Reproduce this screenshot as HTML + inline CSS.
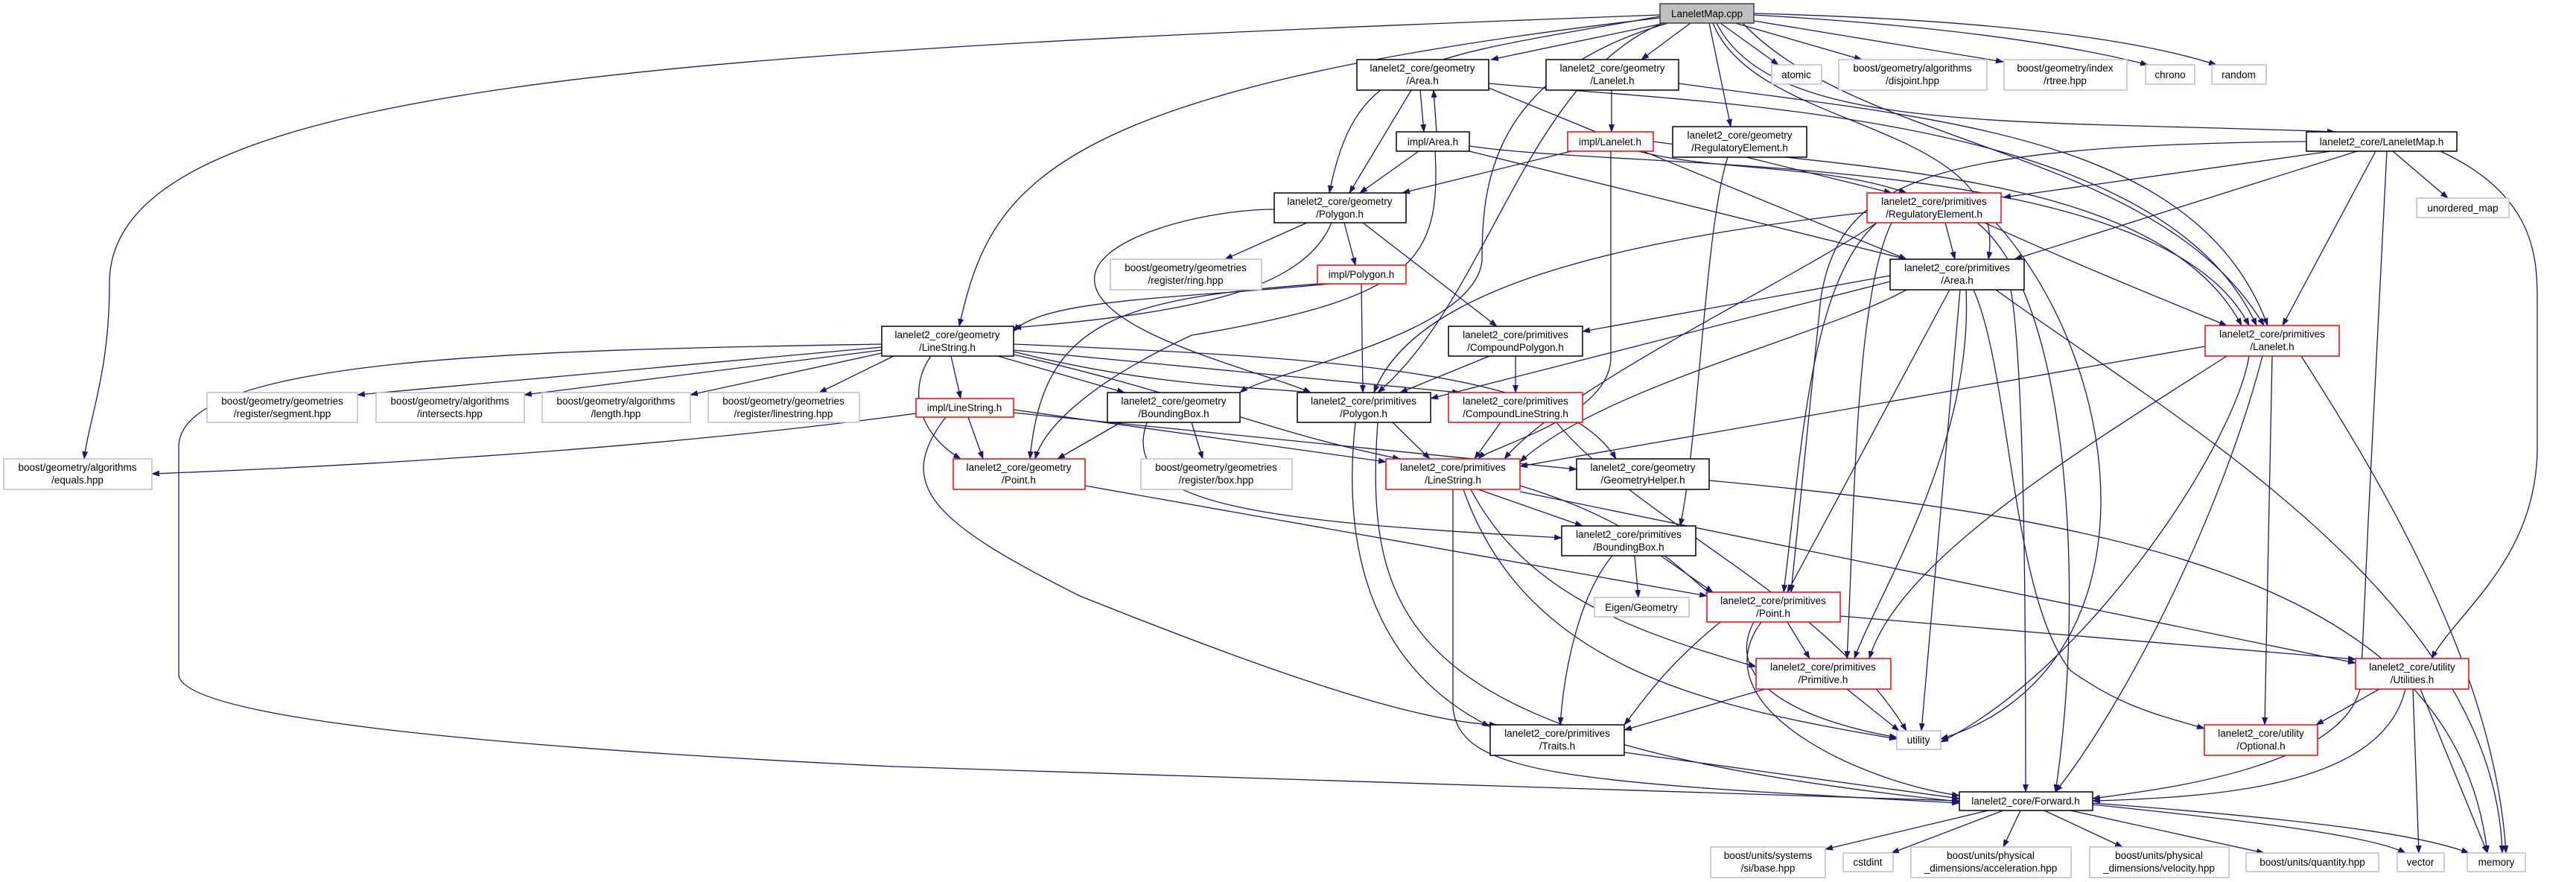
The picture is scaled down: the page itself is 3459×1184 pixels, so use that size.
<!DOCTYPE html>
<html><head><meta charset="utf-8"><style>
html,body{margin:0;padding:0;background:#fff}
svg{display:block}
text{font-family:"Liberation Sans",sans-serif;font-size:13.5px;fill:#000;text-anchor:middle}
.e path{fill:none;stroke:#191970;stroke-width:1.3}
.n{fill:#fff;stroke:#000;stroke-width:1.5}
.r{fill:#fff;stroke:#f00;stroke-width:1.5}
.g{fill:#fff;stroke:#bfbfbf;stroke-width:1.5}
</style></head><body>
<svg width="3459" height="1184" viewBox="0 0 3459 1184" xmlns="http://www.w3.org/2000/svg">
<defs><marker id="a" markerWidth="11" markerHeight="8" refX="10" refY="4" orient="auto" markerUnits="userSpaceOnUse"><path d="M0,0 L11,4 L0,8 z" fill="#191970"/></marker></defs>
<g class="e" marker-end="url(#a)">
<path d="M2236,31 L2002,80"/>
<path d="M2270,31 L2204,80"/>
<path d="M2310,31 L2388,87"/>
<path d="M2330,31 L2500,80"/>
<path d="M2355,28 L2690,83"/>
<path d="M2355,20 Q2700,40 2884,87"/>
<path d="M2355,18 Q2800,30 2976,87"/>
<path d="M2295,31 L2324,170"/>
<path d="M2305,31 C2380,180 2700,160 3135,177"/>
<path d="M2229,22 C1900,80 1820,80 1785,259"/>
<path d="M2229,24 C1400,120 1330,250 1288,438"/>
<path d="M2229,20 C900,70 147,110 147,380 C147,500 120,560 113,616"/>
<path d="M2300,31 C2360,180 2700,160 2670,348"/>
<path d="M2340,31 C2500,200 2900,200 3040,437"/>
<path d="M2240,31 C2000,100 1990,250 1990,350 C1980,450 1700,500 1665,527"/>
<path d="M2240,28 C2050,100 2000,400 1850,527"/>
<path d="M1907,121 L1912,177"/>
<path d="M1929,177 L1925,121"/>
<path d="M1895,121 L1812,259"/>
<path d="M1999,118 L2560,348"/>
<path d="M1999,112 C2300,140 2900,150 3030,437"/>
<path d="M1905,203 L1826,259"/>
<path d="M1973,203 L2560,348"/>
<path d="M1973,196 C2200,230 2900,200 3020,437"/>
<path d="M1927,203 C1935,350 1900,400 1600,450 C1450,520 1400,580 1390,616"/>
<path d="M2164,121 L2164,177"/>
<path d="M2254,112 C2600,160 2950,180 3045,437"/>
<path d="M2110,203 L1883,259"/>
<path d="M2200,203 C2300,230 2450,220 2560,259"/>
<path d="M2220,190 C2500,230 2900,230 3010,437"/>
<path d="M2163,203 L2163,480 C2163,560 2000,600 1985,616"/>
<path d="M2345,211 L2540,259"/>
<path d="M2320,211 C2290,300 2280,600 2256,706"/>
<path d="M3130,203 L2690,265"/>
<path d="M3165,203 L2705,348"/>
<path d="M3190,203 L3065,437"/>
<path d="M3213,203 L3287,266"/>
<path d="M3277,203 C3400,260 3407,340 3407,400 L3407,600 C3407,750 3300,820 3265,884"/>
<path d="M3205,203 L3180,700 L3170,920 C3150,1030 2900,1060 2810,1072"/>
<path d="M3097,190 C2600,195 2470,240 2445,400 L2405,795"/>
<path d="M1755,299 L1645,348"/>
<path d="M1805,299 L1820,356"/>
<path d="M1830,299 L2010,438"/>
<path d="M1788,299 C1750,390 1600,420 1361,440"/>
<path d="M1711,281 C1620,281 1460,320 1470,380 C1480,450 1700,500 1760,527"/>
<path d="M1785,381 C1600,400 1400,400 1361,445"/>
<path d="M1828,381 L1830,527"/>
<path d="M1785,380 C1500,400 1400,430 1383,616"/>
<path d="M2612,299 L2625,348"/>
<path d="M2665,299 C2800,360 2900,400 2990,437"/>
<path d="M2507,285 C2200,320 1900,380 1845,527"/>
<path d="M2520,299 C2400,380 2100,520 2020,616"/>
<path d="M2540,299 C2490,400 2490,700 2480,884"/>
<path d="M2680,299 C2860,500 2900,900 2606,992"/>
<path d="M2655,299 C2780,400 2800,800 2760,1063"/>
<path d="M2520,299 C2430,380 2420,600 2395,795"/>
<path d="M2538,370 L2125,445"/>
<path d="M2538,378 L1921,535"/>
<path d="M2560,389 C2450,450 2150,520 2041,620"/>
<path d="M2618,389 L2400,795"/>
<path d="M2640,389 C2650,600 2520,800 2490,884"/>
<path d="M2632,389 L2580,981"/>
<path d="M2700,389 C2720,500 2720,900 2720,1063"/>
<path d="M2650,389 C2700,500 2700,800 2780,900 C2850,950 2900,960 2960,978"/>
<path d="M2680,389 C2900,550 3350,800 3360,1145"/>
<path d="M1184,466 L480,530"/>
<path d="M1184,470 L704,530"/>
<path d="M1184,474 L927,530"/>
<path d="M1200,478 L1100,527"/>
<path d="M1277,478 L1290,535"/>
<path d="M1340,478 L1510,527"/>
<path d="M1361,472 C1550,520 1700,520 1760,527"/>
<path d="M1361,470 L1960,527"/>
<path d="M1361,462 C1800,480 2100,500 2170,616"/>
<path d="M1361,476 C1600,530 1700,580 1880,616"/>
<path d="M1250,478 C1220,520 1230,580 1290,616"/>
<path d="M1184,462 C700,470 240,480 240,600 L240,907 C250,960 600,1000 1200,1029 L2631,1075"/>
<path d="M2000,478 L1880,527"/>
<path d="M2035,478 L2035,527"/>
<path d="M2015,567 L1980,616"/>
<path d="M2090,567 C2200,700 2450,800 2560,981"/>
<path d="M2961,465 L2041,626"/>
<path d="M2990,478 C2800,600 2550,750 2510,884"/>
<path d="M3020,478 C3000,600 2800,900 2606,996"/>
<path d="M3038,478 C2980,700 2850,950 2760,1063"/>
<path d="M3051,478 L3041,973"/>
<path d="M3090,478 C3200,650 3350,900 3365,1145"/>
<path d="M1230,555 C900,600 500,625 204,636"/>
<path d="M1300,560 L1320,616"/>
<path d="M1361,550 L1861,620"/>
<path d="M1361,554 L2117,630"/>
<path d="M1270,560 C1200,650 1250,700 1450,800 C1700,900 1900,970 2010,973"/>
<path d="M1505,567 L1420,616"/>
<path d="M1600,567 L1615,616"/>
<path d="M1540,567 C1500,680 1700,700 2097,722"/>
<path d="M1457,652 L2292,800"/>
<path d="M1870,567 L1920,616"/>
<path d="M1820,567 C1800,750 1850,900 2000,975"/>
<path d="M1850,567 C1830,850 1900,1000 2631,1076"/>
<path d="M1985,657 L2125,706"/>
<path d="M2041,652 C2200,700 2250,760 2300,800"/>
<path d="M1975,657 C2050,800 2200,850 2358,895"/>
<path d="M1965,657 C2050,900 2300,950 2547,992"/>
<path d="M1951,657 L1951,950 C1960,1040 2100,1050 2631,1078"/>
<path d="M2041,660 L3163,890"/>
<path d="M2195,746 L2200,802"/>
<path d="M2230,746 L2300,795"/>
<path d="M2165,746 C2120,800 2100,900 2095,973"/>
<path d="M2400,835 L2430,884"/>
<path d="M2355,835 C2320,900 2380,960 2547,990"/>
<path d="M2310,835 C2230,900 2200,950 2181,973"/>
<path d="M2365,835 C2280,950 2500,1050 2631,1068"/>
<path d="M2471,827 L3163,885"/>
<path d="M2295,645 C2900,700 3300,800 3340,1145"/>
<path d="M2480,925 L2550,981"/>
<path d="M2370,925 L2181,980"/>
<path d="M2181,1010 L2631,1072"/>
<path d="M3195,925 L3110,973"/>
<path d="M3230,925 C3200,1050 3000,1070 2810,1075"/>
<path d="M3240,925 L3248,1145"/>
<path d="M3250,925 L3340,1145"/>
<path d="M2670,1088 L2451,1140"/>
<path d="M2690,1088 L2540,1145"/>
<path d="M2713,1088 L2690,1137"/>
<path d="M2745,1088 L2850,1137"/>
<path d="M2780,1088 L3040,1145"/>
<path d="M2810,1080 C3000,1100 3180,1120 3230,1145"/>
<path d="M2810,1078 C3100,1100 3250,1120 3315,1145"/>
</g>
<g>
<rect x="2229" y="5" width="126" height="26" fill="#bfbfbf" stroke="#404040" stroke-width="1.5"/><text x="2292" y="23">LaneletMap.cpp</text>
<rect class="n" x="1822" y="80" width="177" height="41"/><text x="1910" y="96">lanelet2_core/geometry</text><text x="1910" y="113">/Area.h</text>
<rect class="n" x="2076" y="80" width="178" height="41"/><text x="2165" y="96">lanelet2_core/geometry</text><text x="2165" y="113">/Lanelet.h</text>
<rect class="g" x="2379" y="87" width="67" height="26"/><text x="2412" y="105">atomic</text>
<rect class="g" x="2469" y="80" width="199" height="41"/><text x="2568" y="96">boost/geometry/algorithms</text><text x="2568" y="113">/disjoint.hpp</text>
<rect class="g" x="2691" y="80" width="165" height="41"/><text x="2773" y="96">boost/geometry/index</text><text x="2773" y="113">/rtree.hpp</text>
<rect class="g" x="2881" y="87" width="66" height="26"/><text x="2914" y="105">chrono</text>
<rect class="g" x="2970" y="87" width="73" height="26"/><text x="3006" y="105">random</text>
<rect class="n" x="1875" y="177" width="98" height="26"/><text x="1924" y="195">impl/Area.h</text>
<rect class="r" x="2105" y="177" width="115" height="26"/><text x="2162" y="195">impl/Lanelet.h</text>
<rect class="n" x="2246" y="170" width="180" height="41"/><text x="2336" y="186">lanelet2_core/geometry</text><text x="2336" y="203">/RegulatoryElement.h</text>
<rect class="n" x="3097" y="177" width="202" height="26"/><text x="3198" y="195">lanelet2_core/LaneletMap.h</text>
<rect class="n" x="1711" y="259" width="177" height="40"/><text x="1799" y="275">lanelet2_core/geometry</text><text x="1799" y="292">/Polygon.h</text>
<rect class="g" x="1491" y="348" width="203" height="41"/><text x="1592" y="364">boost/geometry/geometries</text><text x="1592" y="381">/register/ring.hpp</text>
<rect class="r" x="1769" y="356" width="119" height="25"/><text x="1828" y="373">impl/Polygon.h</text>
<rect class="r" x="2507" y="259" width="180" height="40"/><text x="2597" y="275">lanelet2_core/primitives</text><text x="2597" y="292">/RegulatoryElement.h</text>
<rect class="g" x="3245" y="266" width="124" height="26"/><text x="3307" y="284">unordered_map</text>
<rect class="n" x="2538" y="348" width="180" height="41"/><text x="2628" y="364">lanelet2_core/primitives</text><text x="2628" y="381">/Area.h</text>
<rect class="n" x="1184" y="438" width="177" height="40"/><text x="1272" y="454">lanelet2_core/geometry</text><text x="1272" y="471">/LineString.h</text>
<rect class="n" x="1945" y="438" width="180" height="40"/><text x="2035" y="454">lanelet2_core/primitives</text><text x="2035" y="471">/CompoundPolygon.h</text>
<rect class="r" x="2961" y="437" width="180" height="41"/><text x="3051" y="453">lanelet2_core/primitives</text><text x="3051" y="470">/Lanelet.h</text>
<rect class="g" x="278" y="527" width="202" height="40"/><text x="379" y="543">boost/geometry/geometries</text><text x="379" y="560">/register/segment.hpp</text>
<rect class="g" x="505" y="527" width="199" height="40"/><text x="604" y="543">boost/geometry/algorithms</text><text x="604" y="560">/intersects.hpp</text>
<rect class="g" x="728" y="527" width="199" height="40"/><text x="827" y="543">boost/geometry/algorithms</text><text x="827" y="560">/length.hpp</text>
<rect class="g" x="951" y="527" width="203" height="40"/><text x="1052" y="543">boost/geometry/geometries</text><text x="1052" y="560">/register/linestring.hpp</text>
<rect class="r" x="1230" y="535" width="131" height="25"/><text x="1295" y="552">impl/LineString.h</text>
<rect class="n" x="1487" y="527" width="178" height="40"/><text x="1576" y="543">lanelet2_core/geometry</text><text x="1576" y="560">/BoundingBox.h</text>
<rect class="n" x="1742" y="527" width="179" height="40"/><text x="1831" y="543">lanelet2_core/primitives</text><text x="1831" y="560">/Polygon.h</text>
<rect class="r" x="1945" y="527" width="180" height="40"/><text x="2035" y="543">lanelet2_core/primitives</text><text x="2035" y="560">/CompoundLineString.h</text>
<rect class="g" x="5" y="616" width="199" height="41"/><text x="104" y="632">boost/geometry/algorithms</text><text x="104" y="649">/equals.hpp</text>
<rect class="r" x="1280" y="616" width="177" height="41"/><text x="1368" y="632">lanelet2_core/geometry</text><text x="1368" y="649">/Point.h</text>
<rect class="g" x="1532" y="616" width="203" height="41"/><text x="1633" y="632">boost/geometry/geometries</text><text x="1633" y="649">/register/box.hpp</text>
<rect class="r" x="1861" y="616" width="180" height="41"/><text x="1951" y="632">lanelet2_core/primitives</text><text x="1951" y="649">/LineString.h</text>
<rect class="n" x="2117" y="616" width="178" height="41"/><text x="2206" y="632">lanelet2_core/geometry</text><text x="2206" y="649">/GeometryHelper.h</text>
<rect class="n" x="2097" y="706" width="180" height="40"/><text x="2187" y="722">lanelet2_core/primitives</text><text x="2187" y="739">/BoundingBox.h</text>
<rect class="g" x="2141" y="802" width="127" height="26"/><text x="2204" y="820">Eigen/Geometry</text>
<rect class="r" x="2292" y="795" width="179" height="40"/><text x="2381" y="811">lanelet2_core/primitives</text><text x="2381" y="828">/Point.h</text>
<rect class="r" x="2358" y="884" width="181" height="41"/><text x="2448" y="900">lanelet2_core/primitives</text><text x="2448" y="917">/Primitive.h</text>
<rect class="r" x="3163" y="884" width="152" height="41"/><text x="3239" y="900">lanelet2_core/utility</text><text x="3239" y="917">/Utilities.h</text>
<rect class="g" x="2547" y="981" width="59" height="25"/><text x="2576" y="998">utility</text>
<rect class="n" x="2001" y="973" width="180" height="41"/><text x="2091" y="989">lanelet2_core/primitives</text><text x="2091" y="1006">/Traits.h</text>
<rect class="r" x="2960" y="973" width="152" height="41"/><text x="3036" y="989">lanelet2_core/utility</text><text x="3036" y="1006">/Optional.h</text>
<rect class="n" x="2631" y="1063" width="179" height="25"/><text x="2720" y="1080">lanelet2_core/Forward.h</text>
<rect class="g" x="2297" y="1137" width="154" height="41"/><text x="2374" y="1153">boost/units/systems</text><text x="2374" y="1170">/si/base.hpp</text>
<rect class="g" x="2475" y="1145" width="67" height="25"/><text x="2508" y="1162">cstdint</text>
<rect class="g" x="2566" y="1137" width="215" height="41"/><text x="2673" y="1153">boost/units/physical</text><text x="2673" y="1170">_dimensions/acceleration.hpp</text>
<rect class="g" x="2806" y="1137" width="187" height="41"/><text x="2899" y="1153">boost/units/physical</text><text x="2899" y="1170">_dimensions/velocity.hpp</text>
<rect class="g" x="3016" y="1145" width="178" height="25"/><text x="3105" y="1162">boost/units/quantity.hpp</text>
<rect class="g" x="3219" y="1145" width="63" height="25"/><text x="3250" y="1162">vector</text>
<rect class="g" x="3313" y="1145" width="78" height="25"/><text x="3352" y="1162">memory</text>
</g>
</svg>
</body></html>
